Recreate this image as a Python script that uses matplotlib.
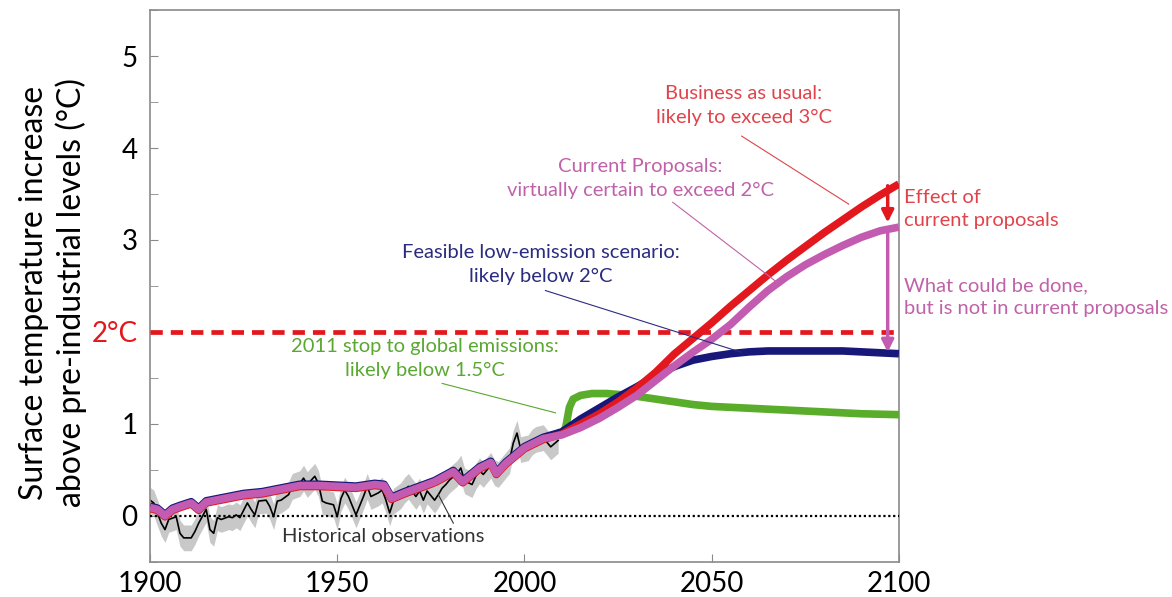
import matplotlib
matplotlib.use("Agg")
import matplotlib.pyplot as plt
import matplotlib.transforms as mtransforms
import numpy as np

# Fonts / colours
plt.rcParams['font.family'] = ['Lato', 'DejaVu Sans']
RED = "#e3171e"
PURPLE = "#c35bb1"
BLUE = "#17187a"
GREEN = "#5aac2b"
RED_TXT = "#e0444a"
PURPLE_TXT = "#c062a9"
BLUE_TXT = "#2b2b80"
GREEN_TXT = "#5aa832"
AXIS_GREY = "#8a8a8a"

# Historical observations (annual anomaly)
OBS_YEARS = [1900, 1901, 1903, 1904, 1905, 1907, 1908, 1909, 1911, 1912,
             1913, 1915, 1916, 1917, 1918, 1919, 1921, 1922, 1923, 1924,
             1926, 1927, 1928, 1929, 1931, 1932, 1933, 1934, 1935, 1937,
             1938, 1940, 1941, 1942, 1944, 1945, 1946, 1947, 1949, 1950,
             1951, 1952, 1953, 1955, 1957, 1958, 1959, 1961, 1962, 1963,
             1964, 1965, 1967, 1968, 1969, 1971, 1972, 1973, 1974, 1976,
             1977, 1978, 1979, 1980, 1982, 1983, 1984, 1986, 1987, 1988,
             1989, 1991, 1992, 1993, 1995, 1996, 1997, 1998, 1999, 2001,
             2002, 2003, 2005, 2006, 2007, 2009]
OBS_TEMP = [0.17, 0.14, -0.08, -0.15, -0.04, -0.01, -0.19, -0.24, -0.24, -0.17,
            -0.08, 0.07, -0.15, -0.19, -0.02, -0.04, -0.01, -0.02, 0.01, -0.02,
            0.14, 0.07, 0.01, 0.16, 0.17, 0.10, -0.01, 0.16, 0.17, 0.23,
            0.32, 0.35, 0.41, 0.34, 0.43, 0.35, 0.16, 0.14, 0.12, -0.01,
            0.19, 0.28, 0.21, 0.01, 0.21, 0.32, 0.21, 0.25, 0.28, 0.17,
            0.03, 0.16, 0.22, 0.28, 0.32, 0.21, 0.27, 0.17, 0.27, 0.17,
            0.23, 0.30, 0.34, 0.39, 0.46, 0.52, 0.38, 0.34, 0.43, 0.49,
            0.45, 0.55, 0.47, 0.45, 0.55, 0.60, 0.79, 0.90, 0.72, 0.74,
            0.80, 0.83, 0.85, 0.80, 0.75, 0.82]
OBS_UNCERT = 0.14

# Simulated past (shared by all scenarios)
HIST_YEARS = [1900, 1902, 1904, 1906, 1908, 1911, 1913, 1915, 1920, 1925,
              1930, 1935, 1940, 1945, 1950, 1955, 1960, 1962.5, 1964.5, 1968,
              1972, 1976, 1981, 1983.5, 1988, 1991, 1992.5, 1995, 2000, 2005]
HIST_TEMP = [0.09, 0.07, 0.0, 0.07, 0.10, 0.14, 0.07, 0.15, 0.19, 0.23,
             0.25, 0.29, 0.33, 0.33, 0.32, 0.31, 0.34, 0.33, 0.19, 0.25,
             0.31, 0.37, 0.48, 0.37, 0.52, 0.58, 0.46, 0.57, 0.74, 0.84]

# Projections from 2010
FUT_YEARS = [2010, 2015, 2020, 2025, 2030, 2035, 2040, 2045, 2050, 2055,
             2060, 2065, 2070, 2075, 2080, 2085, 2090, 2095, 2100]
BAU = [0.90, 1.01, 1.12, 1.25, 1.40, 1.57, 1.77, 1.94, 2.11, 2.29,
       2.46, 2.63, 2.79, 2.94, 3.09, 3.23, 3.37, 3.50, 3.62]
PROPOSALS = [0.88, 0.96, 1.06, 1.18, 1.31, 1.47, 1.63, 1.78, 1.92, 2.08,
             2.27, 2.45, 2.60, 2.73, 2.84, 2.94, 3.03, 3.10, 3.14]
LOW_EMIS = [0.90, 1.04, 1.16, 1.28, 1.39, 1.51, 1.61, 1.68, 1.72, 1.75,
            1.77, 1.78, 1.78, 1.78, 1.78, 1.78, 1.77, 1.76, 1.75]
STOP_YEARS = [2010, 2011, 2012, 2013, 2015, 2018, 2022, 2025, 2030, 2035,
              2040, 2045, 2050, 2055, 2060, 2070, 2080, 2090, 2100]
STOP_2011 = [0.90, 0.96, 1.18, 1.27, 1.31, 1.33, 1.33, 1.32, 1.30, 1.27,
             1.24, 1.21, 1.19, 1.18, 1.17, 1.15, 1.13, 1.11, 1.10]

TARGET = 2.0


def make_chart():
    fig = plt.figure(figsize=(11.72, 5.97), dpi=100)
    ax = fig.add_axes([0.128, 0.059, 0.639, 0.924])

    obs_y = np.array(OBS_TEMP)
    ax.fill_between(OBS_YEARS, obs_y - OBS_UNCERT, obs_y + OBS_UNCERT,
                    color="#c8c8c8", lw=0, zorder=1)
    ax.plot(OBS_YEARS, OBS_TEMP, color="black", lw=1.2, zorder=2)
    ax.axhline(0, color="black", ls=(0, (1, 1.2)), lw=1.6, zorder=3)
    ax.axhline(TARGET, color=RED, lw=3.4, dashes=(2.6, 1.7), zorder=3)

    # scenarios: past + future, drawn with tiny offsets so the edges show
    scen = [
        (STOP_YEARS, STOP_2011, GREEN, 0),
        (FUT_YEARS, LOW_EMIS, BLUE, 1.2),
        (FUT_YEARS, BAU, RED, -1.0),
        (FUT_YEARS, PROPOSALS, PURPLE, 0),
    ]
    for yrs, vals, col, dy in scen:
        x = HIST_YEARS + yrs
        y = HIST_TEMP + vals
        tr = mtransforms.offset_copy(ax.transData, fig=fig, x=0, y=dy, units='dots')
        ax.plot(x, y, color=col, lw=5.5, solid_capstyle='butt', transform=tr, zorder=4)

    # arrows at the right edge
    ax.annotate("", xy=(2097, PROPOSALS[-1] + 0.05), xytext=(2097, BAU[-1] - 0.03),
                arrowprops=dict(arrowstyle='-|>', color=RED, lw=2.5, mutation_scale=18,
                                shrinkA=0, shrinkB=0), zorder=6)
    ax.annotate("", xy=(2097, LOW_EMIS[-1] + 0.03), xytext=(2097, PROPOSALS[-1] - 0.03),
                arrowprops=dict(arrowstyle='-|>', color=PURPLE, lw=2.5, mutation_scale=18,
                                shrinkA=0, shrinkB=0), zorder=6)

    # annotations with thin connector lines
    fs = 14.5
    ax.text(2058.6, 4.46, "Business as usual:\nlikely to exceed 3°C", color=RED_TXT,
            fontsize=fs, ha='center', va='center', linespacing=1.5)
    ax.plot([2058, 2086.6], [4.13, 3.39], color=RED_TXT, lw=0.8, zorder=5)

    ax.text(2031, 3.67, "Current Proposals:\nvirtually certain to exceed 2°C", color=PURPLE_TXT,
            fontsize=fs, ha='center', va='center', linespacing=1.5)
    ax.plot([2039.6, 2068.4], [3.41, 2.51], color=PURPLE_TXT, lw=0.8, zorder=5)

    ax.text(2004.3, 2.73, "Feasible low-emission scenario:\nlikely below 2°C", color=BLUE_TXT,
            fontsize=fs, ha='center', va='center', linespacing=1.5)
    ax.plot([2005.6, 2057.8], [2.45, 1.78], color=BLUE_TXT, lw=0.8, zorder=5)

    ax.text(1973.5, 1.71, "2011 stop to global emissions:\nlikely below 1.5°C", color=GREEN_TXT,
            fontsize=fs, ha='center', va='center', linespacing=1.5)
    ax.plot([1978, 2008.3], [1.44, 1.12], color=GREEN_TXT, lw=0.8, zorder=5)

    ax.text(1962.3, -0.23, "Historical observations", color="#333333",
            fontsize=fs, ha='center', va='center')
    ax.plot([1981, 1977], [-0.08, 0.23], color="#333333", lw=0.8, zorder=5)

    ax.text(2101.3, 3.34, "Effect of\ncurrent proposals", color=RED_TXT,
            fontsize=fs, ha='left', va='center', linespacing=1.4, clip_on=False)
    ax.text(2101.3, 2.38, "What could be done,\nbut is not in current proposals", color=PURPLE_TXT,
            fontsize=fs, ha='left', va='center', linespacing=1.4, clip_on=False)

    # axes formatting
    ax.set_xlim(1900, 2100)
    ax.set_ylim(-0.5, 5.5)
    ax.set_xticks([1900, 1950, 2000, 2050, 2100])
    ax.set_yticks([0, 1, 2, 3, 4, 5])
    ax.set_yticklabels(["0", "1", "2°C", "3", "4", "5"])
    ax.get_yticklabels()[2].set_color(RED)
    ax.set_yticks(np.arange(-0.5, 5.6, 0.5), minor=True)
    ax.tick_params(axis='both', which='both', direction='in', length=6,
                   color=AXIS_GREY, labelsize=20)
    ax.tick_params(axis='y', pad=9)
    ax.tick_params(axis='x', pad=7)
    for sp in ax.spines.values():
        sp.set_color(AXIS_GREY)
        sp.set_linewidth(1.2)

    fig.text(0.045, 0.51, "Surface temperature increase\nabove pre-industrial levels (°C)",
             rotation=90, ha='center', va='center', fontsize=23, linespacing=1.25)

    fig.savefig("out.png", dpi=100)
    plt.close(fig)


if __name__ == "__main__":
    make_chart()
